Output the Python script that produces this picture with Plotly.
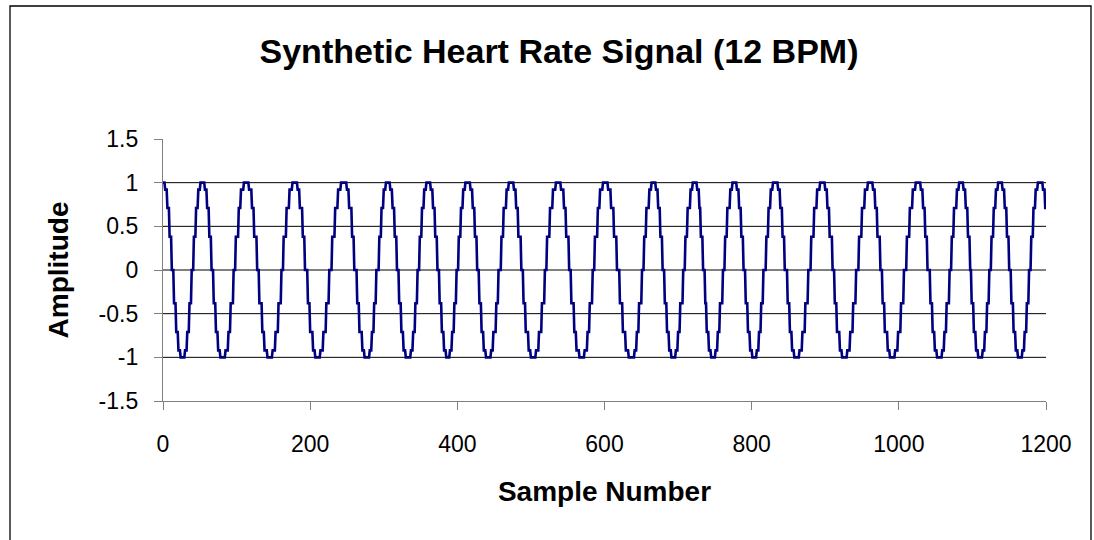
import plotly.graph_objects as go

# ---- data ----
# sample positions of the signal maxima (+1) and minima (-1)
peak_samples = [0, 54, 113, 179, 246, 306, 361, 414, 473, 537, 601, 667, 723,
                777, 832, 896, 961, 1026, 1085, 1138, 1192]
trough_samples = [27, 81, 145, 210, 277, 333, 387, 442, 503, 569, 637, 693,
                  747, 803, 861, 926, 991, 1055, 1110, 1164, 1220]
# staircase levels read along one falling half-beat (peak -> trough)
half_levels = [1.0, 0.92, 0.71, 0.38, 0.0, -0.38, -0.71, -0.92, -1.0]
n_samples = 1200

x_ticks = [0, 200, 400, 600, 800, 1000, 1200]
y_ticks = [-1.5, -1.0, -0.5, 0.0, 0.5, 1.0, 1.5]
y_tick_text = ["-1.5", "-1", "-0.5", "0", "0.5", "1", "1.5"]
grid_vals = [-1.0, -0.5, 0.0, 0.5, 1.0]

# ---- build held (staircase) sample series from the extremes ----
extremes = sorted([(s, "p") for s in peak_samples] + [(s, "t") for s in trough_samples])
xs, ys = [], []
for (s0, k0), (s1, k1) in zip(extremes[:-1], extremes[1:]):
    levels = half_levels if k0 == "p" else half_levels[::-1]
    for n in range(s0, s1):
        if n > n_samples:
            break
        idx = min(int((n - s0) / (s1 - s0) * len(levels)), len(levels) - 1)
        xs.append(n)
        ys.append(levels[idx])

W, H = 1094, 540
L, R, T, B = 163, 48, 139, 139
pw, ph = W - L - R, H - T - B

def px_x(p):
    return (p - L) / pw

def px_y(p):
    return (H - B - p) / ph

fig = go.Figure()
fig.add_trace(go.Scatter(x=xs, y=ys, mode="lines",
                         line=dict(color="#000080", width=2.6),
                         showlegend=False, hoverinfo="skip"))

shapes = []
for g in grid_vals:
    shapes.append(dict(type="line", xref="x", yref="y", x0=0, x1=1200, y0=g, y1=g,
                       line=dict(color="#000000", width=1), layer="below"))
# outer chart frame
shapes.append(dict(type="rect", xref="paper", yref="paper",
                   x0=px_x(10), x1=px_x(1091), y0=px_y(560), y1=px_y(6),
                   line=dict(color="#000000", width=1.3), fillcolor="rgba(0,0,0,0)"))

font_family = "Liberation Sans, Arial, sans-serif"
fig.update_layout(
    width=W, height=H,
    margin=dict(l=L, r=R, t=T, b=B, autoexpand=False),
    paper_bgcolor="white", plot_bgcolor="white",
    font=dict(family=font_family, color="black", size=23),
    title=dict(text="<b>Synthetic Heart Rate Signal (12 BPM)</b>",
               x=px_x(559), xref="paper", xanchor="center",
               y=1 - 51 / H, yanchor="middle",
               font=dict(size=34, family=font_family, color="black")),
    shapes=shapes,
    xaxis=dict(range=[0, 1200], tickvals=x_ticks, ticks="outside", ticklen=8,
               tickcolor="#808080", showline=True, linecolor="#808080", linewidth=1.3,
               showgrid=False, zeroline=False, tickfont=dict(size=23),
               ticklabelstandoff=14,
               title=dict(text="<b>Sample Number</b>", font=dict(size=28), standoff=25)),
    yaxis=dict(range=[-1.5, 1.5], tickvals=y_ticks, ticktext=y_tick_text,
               ticks="outside", ticklen=8, tickcolor="#808080", showline=True,
               linecolor="#808080", linewidth=1.3, showgrid=False, zeroline=False,
               tickfont=dict(size=23), ticklabelstandoff=11,
               title=dict(text="<b>Amplitude</b>", font=dict(size=28), standoff=21)),
)

fig.write_html("out.html", config={"displayModeBar": False},
               post_script="document.body.style.margin='0';")
